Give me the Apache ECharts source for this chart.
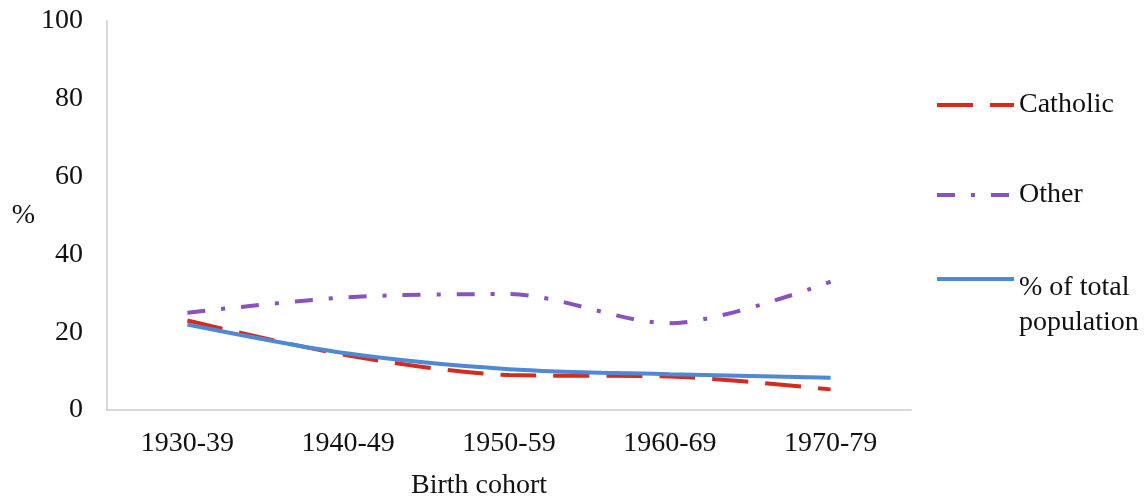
<!DOCTYPE html>
<html>
<head>
<meta charset="utf-8">
<script src="https://cdn.jsdelivr.net/npm/echarts@6/dist/echarts.min.js"></script>
<style>
  html, body { margin: 0; padding: 0; background: #fff; }
  #main { width: 1145px; height: 500px; }
</style>
</head>
<body>
<div id="main"></div>
<script>
var cohorts = ['1930-39', '1940-49', '1950-59', '1960-69', '1970-79'];
var catholic = [23, 14, 9, 8.6, 5.3];
var other = [25, 29, 29.8, 22.3, 33];
var totalPop = [22, 14.5, 10.5, 9.2, 8.3];
var yTicks = [0, 20, 40, 60, 80, 100];

var serif = 'Liberation Serif';
var fs = 28;
var myChart = echarts.init(document.getElementById('main'));

var legendBase = {
    orient: 'vertical',
    left: 935,
    padding: 0,
    itemWidth: 77,
    itemHeight: 30,
    itemStyle: { opacity: 0 },
    textStyle: { fontFamily: serif, fontSize: fs, color: '#111', lineHeight: 30 }
};

var option = {
    animation: false,
    grid: { left: 107, right: 234, top: 21, bottom: 90, outerBoundsMode: 'none' },
    legend: [
        Object.assign({}, legendBase, {
            top: 90,
            data: [{ name: 'Catholic', lineStyle: { width: 4, type: [36, 17] } }]
        }),
        Object.assign({}, legendBase, {
            top: 180,
            data: [{ name: 'Other', lineStyle: { width: 4, type: [18, 16, 4, 16] } }]
        }),
        Object.assign({}, legendBase, {
            top: 239,
            data: [{ name: '% of total population', lineStyle: { width: 4 } }],
            // first line of the label sits a little below the icon, as in the original
            formatter: function () {
                return '{e| }\n{a|% of total}\n{a|population}';
            },
            textStyle: {
                fontFamily: serif, fontSize: fs, color: '#111',
                rich: {
                    e: { fontSize: 10, lineHeight: 53 },
                    a: { fontFamily: serif, fontSize: fs, color: '#111', lineHeight: 35 }
                }
            }
        })
    ],
    xAxis: {
        type: 'category',
        data: cohorts,
        boundaryGap: true,
        name: 'Birth cohort',
        nameLocation: 'middle',
        nameGap: 62,
        nameTextStyle: { fontFamily: serif, fontSize: fs, color: '#111', padding: [0, 60, 0, 0] },
        axisLine: { lineStyle: { color: '#d9d9d9', width: 2 } },
        axisTick: { show: false },
        axisLabel: { fontFamily: serif, fontSize: fs, color: '#111', margin: 20 }
    },
    yAxis: {
        type: 'value',
        min: 0,
        max: 100,
        interval: 20,
        name: '%',
        nameLocation: 'middle',
        nameGap: 72,
        nameRotate: 0,
        nameTextStyle: { fontFamily: serif, fontSize: fs, color: '#111', padding: [16, 0, 0, 0] },
        axisLine: { show: true, lineStyle: { color: '#d9d9d9', width: 2 } },
        axisTick: { show: false },
        splitLine: { show: false },
        axisLabel: {
            fontFamily: serif, fontSize: fs, color: '#111', margin: 24,
            formatter: function (v) { return yTicks.indexOf(v) >= 0 ? String(v) : ''; }
        }
    },
    series: [
        {
            name: 'Catholic',
            type: 'line',
            data: catholic,
            smooth: 0.3,
            showSymbol: false,
            itemStyle: { color: '#d42b1f' },
            lineStyle: { color: '#d42b1f', width: 4, type: [36, 17] }
        },
        {
            name: 'Other',
            type: 'line',
            data: other,
            smooth: 0.3,
            showSymbol: false,
            itemStyle: { color: '#8a52c0' },
            lineStyle: { color: '#8a52c0', width: 4, type: [18, 16, 4, 16] }
        },
        {
            name: '% of total population',
            type: 'line',
            data: totalPop,
            smooth: 0.3,
            showSymbol: false,
            itemStyle: { color: '#4f88d6' },
            lineStyle: { color: '#4f88d6', width: 4 }
        }
    ]
};

myChart.setOption(option);
</script>
</body>
</html>
